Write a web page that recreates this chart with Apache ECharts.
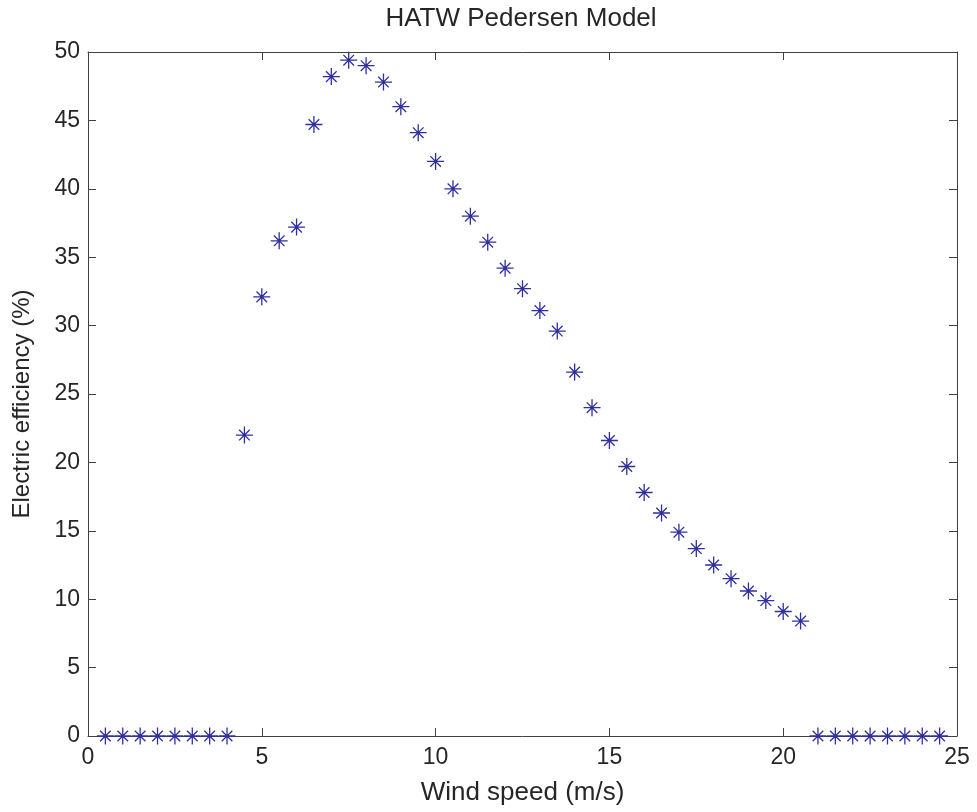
<!DOCTYPE html>
<html><head><meta charset="utf-8">
<script src="https://cdn.jsdelivr.net/npm/echarts@6/dist/echarts.min.js"></script>
<style>html,body{margin:0;padding:0;background:#fff}#c{width:977px;height:812px}</style>
</head><body><div id="c"></div>
<script>
const windSpeed = [0.5,1,1.5,2,2.5,3,3.5,4,4.5,5,5.5,6,6.5,7,7.5,8,8.5,9,9.5,10,10.5,11,11.5,12,12.5,13,13.5,14,14.5,15,15.5,16,16.5,17,17.5,18,18.5,19,19.5,20,20.5,21,21.5,22,22.5,23,23.5,24,24.5];
const efficiency = [0,0,0,0,0,0,0,0,22.0,32.1,36.2,37.2,44.7,48.2,49.4,49.0,47.8,46.0,44.1,42.0,40.0,38.0,36.1,34.2,32.7,31.1,29.6,26.6,24.0,21.6,19.7,17.8,16.3,14.9,13.7,12.5,11.5,10.6,9.9,9.1,8.4,0,0,0,0,0,0,0,0];
const xTicks = [0,5,10,15,20,25];
const yTicks = [0,5,10,15,20,25,30,35,40,45,50];
const titleText = 'HATW Pedersen Model';
const xName = 'Wind speed (m/s)';
const yName = 'Electric efficiency (%)';

const font = 'Liberation Sans, Arial, sans-serif';
const axisCol = '#404040';
const textCol = '#262626';
const pts = windSpeed.map((x,i)=>[x, efficiency[i]]);
const baseAxis = {
  axisLine:{show:true,onZero:false,lineStyle:{color:axisCol,width:1}},
  axisTick:{show:true,inside:true,length:8,lineStyle:{color:axisCol}},
  splitLine:{show:false}
};
const chart = echarts.init(document.getElementById('c'),null,{renderer:'canvas'});
chart.setOption({
  animation:false,
  backgroundColor:'#fff',
  graphic:[
    {type:'text',x:521,y:19,style:{text:titleText,fontFamily:font,fontSize:26,fill:textCol,
      textAlign:'center',textVerticalAlign:'middle'}},
    {type:'text',x:22,y:404,rotation:Math.PI/2,style:{text:yName,fontFamily:font,fontSize:24,fill:textCol,
      textAlign:'center',textVerticalAlign:'middle'}}
  ],
  grid:{left:88,right:20,top:52,bottom:76,show:false},
  xAxis:[
    Object.assign({},baseAxis,{type:'value',min:0,max:25,interval:5,position:'bottom',
      name:xName,nameLocation:'middle',nameGap:44,
      nameTextStyle:{fontFamily:font,fontSize:26,color:textCol},
      axisLabel:{fontFamily:font,fontSize:23,color:textCol,margin:10,
        formatter:v=>xTicks.includes(v)?String(v):''}}),
    Object.assign({},baseAxis,{type:'value',min:0,max:25,interval:5,position:'top',
      axisLabel:{show:false}})
  ],
  yAxis:[
    Object.assign({},baseAxis,{type:'value',min:0,max:50,interval:5,position:'left',
      axisLabel:{fontFamily:font,fontSize:23,color:textCol,margin:8,
        formatter:v=>yTicks.includes(v)?String(v):''}}),
    Object.assign({},baseAxis,{type:'value',min:0,max:50,interval:5,position:'right',
      axisLabel:{show:false}})
  ],
  series:[{
    type:'scatter',
    data:pts,
    symbol:'path://M8,0L8,16M0,8L16,8M3,3L13,13M3,13L13,3',
    symbolSize:17,
    itemStyle:{color:'rgba(0,0,0,0)',borderColor:'#2f2fa0',borderWidth:1.3,opacity:1},
    z:5
  }]
});
</script></body></html>
